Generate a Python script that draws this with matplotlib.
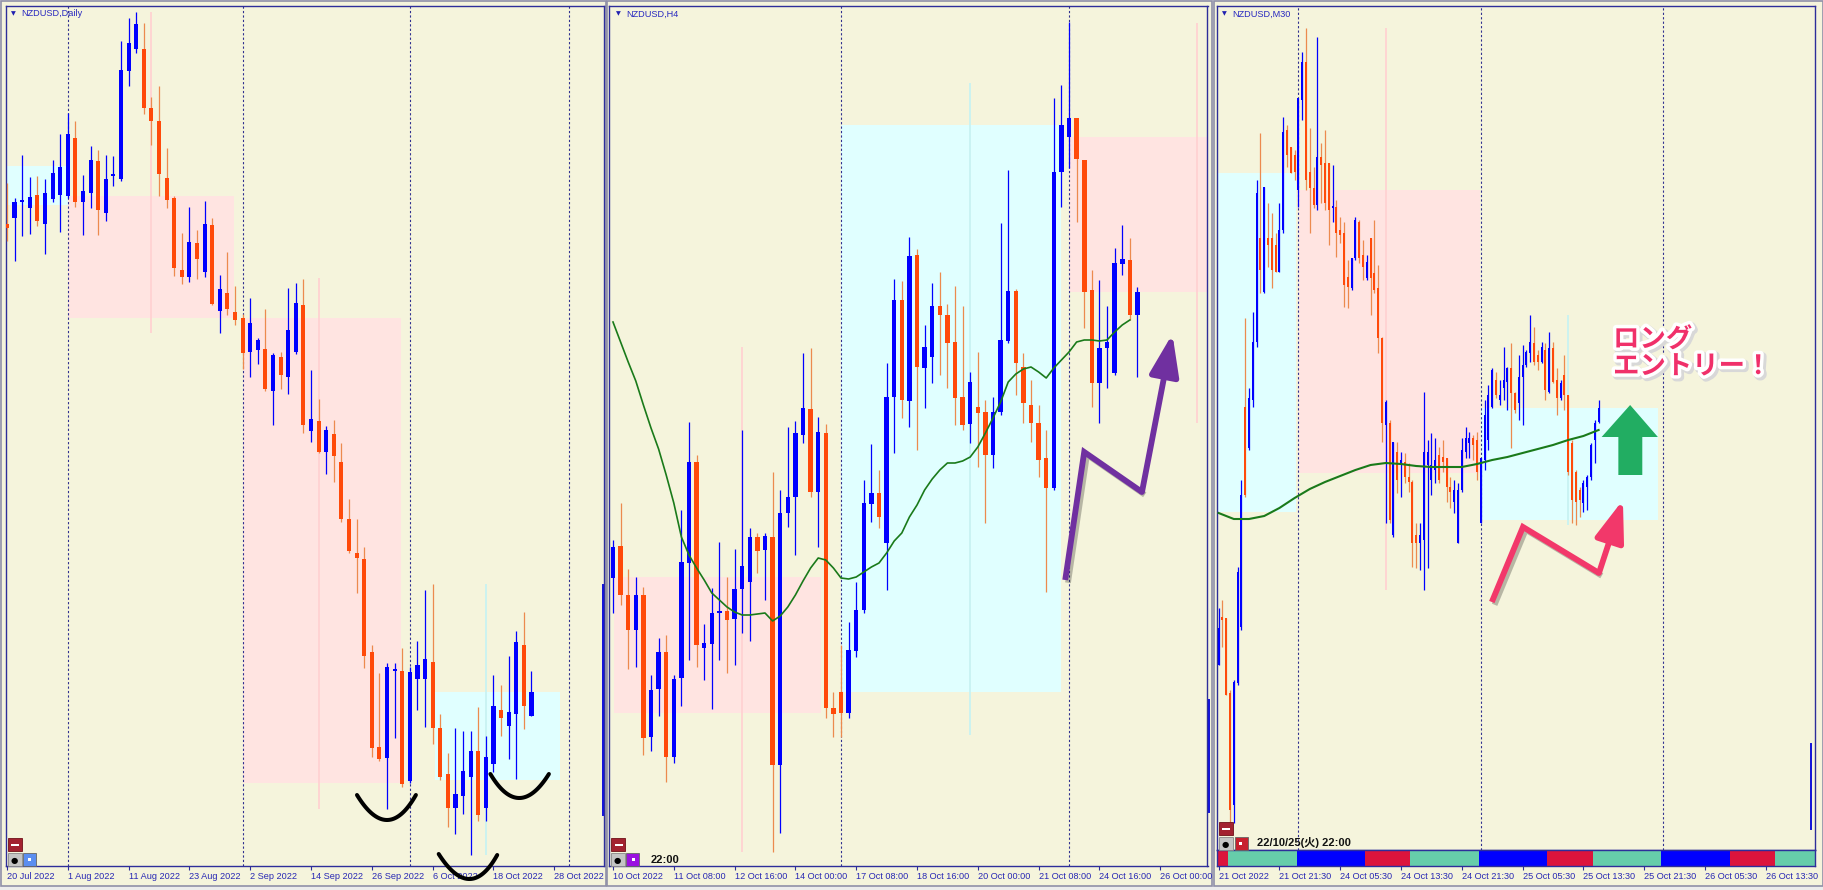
import matplotlib
matplotlib.use('Agg')
import matplotlib.pyplot as plt
import matplotlib.patheffects as pe
from matplotlib.patches import Rectangle, Polygon
from matplotlib.lines import Line2D
import numpy as np

plt.rcParams['font.family'] = ['Liberation Sans', 'DejaVu Sans', 'Noto Sans CJK JP']

W, H = 1824, 890

# ---------------- NZDUSD Daily ----------------
d1_open = [.6276, .6282, .6298, .6292, .6305, .6276, .6301, .6305, .6304, .6362,
           .6298, .6307, .6339, .6287, .6324, .6321, .6429, .6451, .6451, .6392,
           .6379, .6322, .6302, .6230, .6223, .6257, .6228, .6275, .6189, .6207,
           .6188, .6182, .6148, .6150, .6151, .6109, .6143, .6123, .6148, .6195,
           .6069, .6079, .6048, .6066, .6038, .5981, .5947, .5941, .5848, .5753,
           .5742, .5829, .5829, .5719, .5821, .5821, .5838, .5772, .5726, .5692,
           .5704, .5723, .5749, .5692, .5736, .5790, .5774, .5786, .5855, .5784]
d1_high = [.6317, .6302, .6345, .6323, .6324, .6321, .6340, .6366, .6387, .6379,
           .6325, .6354, .6350, .6345, .6344, .6459, .6482, .6488, .6477, .6403,
           .6414, .6352, .6304, .6267, .6293, .6270, .6299, .6282, .6225, .6248,
           .6214, .6186, .6202, .6162, .6191, .6147, .6148, .6212, .6217, .6221,
           .6130, .6101, .6074, .6080, .6057, .6001, .5981, .5953, .5855, .5827,
           .5837, .5837, .5852, .5833, .5859, .5910, .5916, .5786, .5747, .5772,
           .5769, .5769, .5793, .5764, .5825, .5815, .5844, .5869, .5888, .5829]
d1_low = [.6259, .6239, .6264, .6266, .6274, .6246, .6298, .6268, .6302, .6293,
          .6265, .6292, .6265, .6279, .6314, .6319, .6414, .6447, .6386, .6355,
          .6304, .6292, .6224, .6216, .6218, .6221, .6223, .6195, .6167, .6185,
          .6175, .6131, .6123, .6136, .6109, .6075, .6111, .6106, .6146, .6067,
          .6058, .6047, .6026, .6018, .5978, .5947, .5907, .5832, .5743, .5739,
          .5691, .5762, .5713, .5717, .5790, .5773, .5756, .5720, .5673, .5666,
          .5686, .5645, .5679, .5679, .5728, .5764, .5741, .5721, .5771, .5784]
d1_close = [.6272, .6298, .6300, .6303, .6279, .6307, .6327, .6333, .6366, .6298,
            .6309, .6340, .6290, .6321, .6325, .6430, .6457, .6476, .6392, .6379,
            .6326, .6300, .6232, .6223, .6258, .6241, .6276, .6196, .6211, .6191,
            .6180, .6147, .6177, .6160, .6111, .6145, .6125, .6170, .6197, .6075,
            .6081, .6048, .6070, .6044, .5981, .5949, .5942, .5844, .5752, .5741,
            .5833, .5831, .5716, .5828, .5835, .5841, .5772, .5723, .5692, .5706,
            .5729, .5749, .5685, .5743, .5794, .5782, .5788, .5858, .5794, .5808]
# monthly candles drawn as boxes (Jul, Aug, Sep, Oct)
mn_start = [-2, 8, 31, 56.3]
mn_end = [8, 29.9, 51.8, 72.8]
mn_mid = [-5, 18.9, 41, 63]
mn_open = [.6295, .6304, .6182, .5720]
mn_close = [.6334, .6182, .5717, .5808]
mn_high = [.6334, .6488, .6222, .5916]
mn_low = [.6295, .6167, .5691, .5645]
d1_ticks = ['20 Jul 2022', '1 Aug 2022', '11 Aug 2022', '23 Aug 2022', '2 Sep 2022',
            '14 Sep 2022', '26 Sep 2022', '6 Oct 2022', '18 Oct 2022', '28 Oct 2022']
d1_grid = [8, 31, 53, 74]

# ---------------- NZDUSD H4 ----------------
h4_open = [.5422, .5454, .5405, .5370, .5405, .5263, .5311, .5348, .5243, .5322,
           .5437, .5538, .5352, .5356, .5387, .5389, .5381, .5411, .5418, .5463,
           .5450, .5463, .5235, .5487, .5503, .5565, .5591, .5508, .5567, .5292,
           .5308, .5287, .5349, .5390, .5496, .5507, .5457, .5603, .5700, .5599,
           .5745, .5632, .5643, .5694, .5685, .5658, .5603, .5576, .5593, .5588,
           .5545, .5588, .5659, .5709, .5633, .5595, .5577, .5542, .5512, .5828,
           .5863, .5882, .5840, .5710, .5617, .5652, .5627, .5736, .5740, .5685]
h4_high = [.5460, .5497, .5431, .5423, .5413, .5325, .5362, .5365, .5325, .5490,
           .5578, .5545, .5376, .5412, .5458, .5423, .5451, .5570, .5472, .5467,
           .5467, .5528, .5510, .5573, .5579, .5647, .5652, .5583, .5576, .5308,
           .5355, .5378, .5418, .5520, .5556, .5530, .5637, .5721, .5719, .5763,
           .5751, .5675, .5717, .5728, .5696, .5714, .5694, .5628, .5648, .5600,
           .5603, .5777, .5830, .5711, .5647, .5620, .5595, .5570, .5902, .5915,
           .5978, .5882, .5840, .5730, .5720, .5694, .5752, .5775, .5762, .5713]
h4_low = [.5387, .5395, .5331, .5333, .5245, .5249, .5284, .5218, .5237, .5294,
          .5340, .5333, .5320, .5291, .5340, .5327, .5335, .5367, .5359, .5427,
          .5400, .5148, .5167, .5473, .5445, .5557, .5503, .5453, .5282, .5263,
          .5263, .5282, .5343, .5387, .5478, .5472, .5410, .5547, .5582, .5573,
          .5550, .5592, .5617, .5625, .5612, .5575, .5570, .5557, .5533, .5477,
          .5532, .5585, .5657, .5605, .5577, .5558, .5523, .5408, .5510, .5793,
          .5832, .5778, .5672, .5593, .5577, .5612, .5625, .5725, .5680, .5623]
h4_close = [.5453, .5405, .5370, .5405, .5262, .5310, .5348, .5243, .5321, .5438,
            .5538, .5355, .5357, .5387, .5389, .5380, .5411, .5434, .5463, .5449,
            .5464, .5235, .5487, .5503, .5567, .5592, .5508, .5568, .5292, .5286,
            .5287, .5350, .5390, .5497, .5507, .5483, .5603, .5700, .5600, .5744,
            .5633, .5653, .5694, .5685, .5657, .5602, .5575, .5618, .5587, .5545,
            .5588, .5660, .5709, .5637, .5597, .5577, .5540, .5512, .5828, .5875,
            .5882, .5841, .5708, .5617, .5652, .5658, .5737, .5741, .5685, .5708]
h4_ma = [.5678, .5658, .5638, .5619, .5595, .5572, .5551, .5525, .5497, .5463,
         .5445, .5432, .5420, .5407, .5400, .5393, .5388, .5385, .5385, .5386,
         .5387, .5379, .5384, .5393, .5405, .5419, .5432, .5442, .5440, .5432,
         .5422, .5421, .5423, .5428, .5433, .5437, .5447, .5459, .5467, .5483,
         .5495, .5510, .5521, .5530, .5537, .5537, .5539, .5543, .5553, .5567,
         .5582, .5598, .5618, .5626, .5631, .5633, .5628, .5622, .5632, .5640,
         .5648, .5658, .5660, .5660, .5659, .5660, .5668, .5675, .5680]
# weekly candles drawn as boxes
wk_start = [0.1, 30, 60]
wk_end = [27.4, 58.9, 90]
wk_mid = [17, 47, 76.9]
wk_open = [.5423, .5308, .5863]
wk_close = [.5287, .5875, .5708]
wk_high = [.5653, .5917, .5977]
wk_low = [.5148, .5265, .5577]
h4_ticks = ['10 Oct 2022', '11 Oct 08:00', '12 Oct 16:00', '14 Oct 00:00', '17 Oct 08:00',
            '18 Oct 16:00', '20 Oct 00:00', '21 Oct 08:00', '24 Oct 16:00', '26 Oct 00:00']
h4_grid = [30, 60]

# ---------------- NZDUSD M30 ----------------
m30_open = [.5335, .5383, .5382, .5307, .5195, .5317, .5373, .5593, .5552, .5600,
            .5658, .5762, .5708, .5762, .5762, .5755, .5728, .5770, .5870, .5853,
            .5845, .5810, .5900, .5938, .5828, .5812, .5795, .5843, .5837, .5837,
            .5792, .5793, .5770, .5767, .5723, .5712, .5742, .5778, .5745, .5722,
            .5762, .5727, .5712, .5662, .5575, .5577, .5465, .5548, .5535, .5538,
            .5523, .5518, .5465, .5457, .5460, .5535, .5520, .5530, .5545, .5543,
            .5542, .5513, .5498, .5457, .5510, .5548, .5557, .5562, .5560, .5477,
            .5540, .5560, .5593, .5620, .5600, .5612, .5618, .5632, .5607, .5597,
            .5623, .5635, .5647, .5657, .5645, .5638, .5650, .5608, .5652, .5620,
            .5602, .5625, .5605, .5557, .5528, .5510, .5497, .5513, .5523, .5560,
            .5578]
m30_high = [.5392, .5400, .5382, .5310, .5320, .5433, .5520, .5682, .5612, .5688,
            .5820, .5867, .5813, .5797, .5787, .5767, .5797, .5883, .5875, .5853,
            .5850, .5902, .5948, .5972, .5872, .5833, .5963, .5857, .5870, .5837,
            .5835, .5800, .5783, .5778, .5740, .5742, .5783, .5780, .5760, .5745,
            .5762, .5780, .5735, .5663, .5600, .5580, .5558, .5558, .5548, .5547,
            .5537, .5520, .5477, .5477, .5608, .5560, .5567, .5562, .5553, .5560,
            .5542, .5523, .5520, .5517, .5562, .5573, .5568, .5565, .5568, .5542,
            .5600, .5615, .5632, .5628, .5620, .5653, .5633, .5657, .5608, .5645,
            .5655, .5650, .5685, .5673, .5650, .5658, .5657, .5668, .5658, .5632,
            .5620, .5645, .5605, .5560, .5530, .5513, .5520, .5525, .5557, .5580,
            .5600]
m30_low = [.5335, .5353, .5305, .5175, .5177, .5315, .5370, .5503, .5550, .5593,
           .5653, .5707, .5707, .5733, .5712, .5728, .5728, .5767, .5833, .5827,
           .5820, .5793, .5880, .5810, .5767, .5792, .5790, .5797, .5790, .5755,
           .5778, .5743, .5757, .5693, .5692, .5710, .5740, .5737, .5720, .5720,
           .5685, .5707, .5647, .5558, .5477, .5477, .5463, .5507, .5503, .5517,
           .5508, .5433, .5432, .5430, .5410, .5432, .5505, .5517, .5517, .5528,
           .5498, .5492, .5487, .5457, .5508, .5542, .5542, .5540, .5520, .5477,
           .5530, .5550, .5592, .5602, .5595, .5600, .5590, .5552, .5587, .5580,
           .5575, .5633, .5638, .5635, .5630, .5637, .5600, .5607, .5617, .5585,
           .5600, .5590, .5525, .5477, .5475, .5483, .5488, .5490, .5520, .5537,
           .5577]
m30_close = [.5372, .5380, .5305, .5190, .5318, .5428, .5505, .5505, .5602, .5658,
             .5807, .5730, .5813, .5755, .5730, .5728, .5770, .5868, .5845, .5827,
             .5828, .5902, .5938, .5820, .5812, .5795, .5843, .5835, .5797, .5790,
             .5793, .5767, .5765, .5715, .5713, .5742, .5780, .5742, .5733, .5738,
             .5722, .5710, .5662, .5577, .5598, .5480, .5558, .5520, .5540, .5523,
             .5518, .5457, .5457, .5465, .5548, .5548, .5535, .5540, .5520, .5538,
             .5513, .5508, .5510, .5510, .5550, .5562, .5562, .5555, .5528, .5542,
             .5585, .5605, .5630, .5605, .5605, .5620, .5632, .5607, .5590, .5623,
             .5635, .5648, .5658, .5638, .5638, .5653, .5610, .5652, .5618, .5602,
             .5617, .5605, .5528, .5500, .5498, .5500, .5517, .5523, .5555, .5577,
             .5592]
m30_ma_bar = [0, 4, 8, 12, 16, 20, 24, 28, 32, 36, 40, 44, 48, 52, 56, 60, 64,
              68, 72, 76, 80, 84, 88, 92, 96, 100]
m30_ma = [.5487, .5481, .5481, .5484, .5492, .5502, .5511, .5518, .5524, .5530,
          .5535, .5537, .5536, .5534, .5533, .5533, .5533, .5536, .5540, .5543,
          .5547, .5551, .5555, .5560, .5564, .5570]
# daily candles drawn as boxes
dy_start = [-3, 21.2, 69]
dy_end = [20.4, 68.8, 115.6]
dy_mid = [-10, 44, 92]
dy_open = [.5488, .5810, .5480]
dy_close = [.5827, .5527, .5592]
dy_high = [.5827, .5972, .5685]
dy_low = [.5488, .5410, .5475]
m30_ticks = ['21 Oct 2022', '21 Oct 21:30', '24 Oct 05:30', '24 Oct 13:30', '24 Oct 21:30',
             '25 Oct 05:30', '25 Oct 13:30', '25 Oct 21:30', '26 Oct 05:30', '26 Oct 13:30']
m30_grid = [21, 69, 117]
session_edges = [-0.5, 2.5, 20.5, 38.5, 50.5, 68.5, 86.5, 98.5, 116.5, 134.5, 146.5, 157]
session_names = ['London', 'NewYork', 'Tokyo', 'London', 'NewYork', 'Tokyo',
                 'London', 'NewYork', 'Tokyo', 'London', 'NewYork']

# hand drawn marks
smiles = [[(46.05, .5705), (50.0, .5680), (53.8, .5705)],
          [(56.8, .5646), (60.8, .5621), (64.5, .5645)],
          [(63.6, .5726), (67.4, .5702), (71.3, .5726)]]
zz2_x = [59.5, 62.0, 69.6, 73.6]
zz2_y = [.5420, .5548, .5508, .5666]
zz3_x = [71.9, 80.1, 100.1, 106.4]
zz3_y = [.5398, .5473, .5427, .5500]
up_x = [100.8, 108.3, 115.6, 111.5, 111.5, 105.2, 105.2]
up_y = [.5563, .5595, .5563, .5563, .5525, .5525, .5563]

BG = '#F5F4DC'
BULL = '#0000FF'
BEAR = '#FF4A0A'
BEAR_WICK = '#EC8A4E'
PINK = '#FFE4E1'
CYAN = '#E0FFFF'
FRAME = '#2E2E9A'
LABEL = '#2828B4'
SESSION_COL = {'Tokyo': '#0000FF', 'London': '#DC143C', 'NewYork': '#66CDAA'}

fig = plt.figure(figsize=(W / 100, H / 100), dpi=100)
fig.patch.set_facecolor('#ECECEC')


def fig_box(x0, y0, x1, y1, **kw):
    r = Rectangle((x0 / W, 1 - y1 / H), (x1 - x0) / W, (y1 - y0) / H,
                  transform=fig.transFigure, **kw)
    fig.add_artist(r)
    return r


def fig_vline(x, y0, y1, **kw):
    fig.add_artist(Line2D([x / W, x / W], [1 - y0 / H, 1 - y1 / H],
                          transform=fig.transFigure, **kw))


def make_axes(x0, x1, y0, y1):
    ax = fig.add_axes([x0 / W, 1 - y1 / H, (x1 - x0) / W, (y1 - y0) / H])
    ax.set_facecolor(BG)
    for s in ax.spines.values():
        s.set_color(FRAME)
        s.set_linewidth(1.0)
    ax.set_yticks([])
    return ax


def set_xaxis(ax, step, labels):
    ax.set_xticks(np.arange(len(labels)) * step, labels)
    ax.tick_params(axis='x', direction='out', length=3, width=0.8, color=FRAME,
                   labelcolor=LABEL, labelsize=6.6, pad=1.5)
    for t in ax.get_xticklabels():
        t.set_ha('left')


def draw_candles(ax, o, h, l, c, width, min_body):
    o, h, l, c = map(np.asarray, (o, h, l, c))
    x = np.arange(len(o))
    up = c >= o
    ax.vlines(x[up], l[up], h[up], color=BULL, lw=0.9, zorder=3)
    ax.vlines(x[~up], l[~up], h[~up], color=BEAR_WICK, lw=0.9, zorder=3)
    ax.bar(x, np.maximum(np.abs(c - o), min_body), width, bottom=np.minimum(o, c),
           color=np.where(up, BULL, BEAR), lw=0, zorder=4)


def draw_htf(ax, start, end, mid, o, h, l, c):
    for s, e, m, op, hi, lo, cl in zip(start, end, mid, o, h, l, c):
        col = CYAN if cl >= op else PINK
        wick = '#C8F2F2' if cl >= op else '#FFD2D2'
        ax.bar(s, abs(cl - op), e - s, bottom=min(op, cl), align='edge',
               color=col, lw=0, zorder=0.5)
        ax.vlines(m, lo, hi, color=wick, lw=1.3, zorder=0.6)


def draw_grid(ax, xs):
    for x in xs:
        ax.axvline(x, color='#303090', lw=0.8, ls=(0, (2, 2)), zorder=1)


def smile(ax, pts):
    p0, pb, p2 = (np.array(p) for p in pts)
    ctrl = 2 * pb - 0.5 * (p0 + p2)
    t = np.linspace(0, 1, 40)[:, None]
    b = (1 - t) ** 2 * p0 + 2 * (1 - t) * t * ctrl + t ** 2 * p2
    ax.plot(b[:, 0], b[:, 1], color='black', lw=2.9, solid_capstyle='round',
            clip_on=False, zorder=8)


def zigzag(ax, xs, ys, color):
    shadow = [pe.SimpleLineShadow(offset=(2, -2), alpha=0.25), pe.Normal()]
    ax.plot(xs[:-1], ys[:-1], color=color, lw=4.2, solid_joinstyle='miter',
            solid_capstyle='butt', zorder=8, path_effects=shadow)
    ax.annotate('', xy=(xs[-1], ys[-1]), xytext=(xs[-2], ys[-2]), zorder=8,
                arrowprops=dict(arrowstyle='-|>,head_length=0.9,head_width=0.32',
                                mutation_scale=28, color=color, lw=4.2,
                                shrinkA=0, shrinkB=0))


# window backgrounds / frames (behind the axes)
for x0, x1 in [(1, 606), (607, 1212), (1214, 1823)]:
    fig_box(x0, 1, x1, 886, facecolor=BG, edgecolor='#9090A8', lw=1.2, zorder=-10)

# ---- panel 1: Daily ----
ax1 = make_axes(6, 604, 6, 866)
draw_htf(ax1, mn_start, mn_end, mn_mid, mn_open, mn_high, mn_low, mn_close)
draw_grid(ax1, d1_grid)
draw_candles(ax1, d1_open, d1_high, d1_low, d1_close, 0.55, 0.0002)
for s in smiles:
    smile(ax1, s)
ax1.set_xlim(-0.13, 78.55)
ax1.set_ylim(0.5634, 0.6494)
set_xaxis(ax1, 8, d1_ticks)

# ---- panel 2: H4 ----
ax2 = make_axes(609.5, 1207.5, 6, 866)
draw_htf(ax2, wk_start, wk_end, wk_mid, wk_open, wk_high, wk_low, wk_close)
draw_grid(ax2, h4_grid)
draw_candles(ax2, h4_open, h4_high, h4_low, h4_close, 0.6, 0.0002)
ax2.plot(np.arange(len(h4_ma)), h4_ma, color='#1A7A1A', lw=1.2, zorder=5)
zigzag(ax2, zz2_x, zz2_y, '#7030A0')
ax2.set_xlim(-0.46, 78.22)
ax2.set_ylim(0.5134, 0.5994)
set_xaxis(ax2, 8, h4_ticks)

# ---- panel 3: M30 ----
ax3 = make_axes(1217.5, 1815, 6, 850)
draw_htf(ax3, dy_start, dy_end, dy_mid, dy_open, dy_high, dy_low, dy_close)
draw_grid(ax3, m30_grid)
draw_candles(ax3, m30_open, m30_high, m30_low, m30_close, 0.55, 0.0002)
ax3.plot(m30_ma_bar, m30_ma, color='#1A7A1A', lw=1.5, zorder=5)
zigzag(ax3, zz3_x, zz3_y, '#F2386A')
ax3.add_patch(Polygon(list(zip(up_x, up_y)), closed=True, facecolor='#22AD62',
                      edgecolor='none', zorder=8))
ax3.text(103.8, 0.5674, 'ロング\nエントリー！', family=['Noto Sans CJK JP'],
         fontsize=19, fontweight='bold', color='#F0306A', va='top', ha='left',
         linespacing=1.0, zorder=9,
         path_effects=[pe.Stroke(linewidth=6, foreground='#D8D8D8', offset=(1.5, -1.5)),
                       pe.Stroke(linewidth=5, foreground='white'), pe.Normal()])
ax3.set_xlim(-0.29, 156.95)
ax3.set_ylim(0.5150, 0.5994)
ax3.set_xticks([])

ax3s = make_axes(1217.5, 1815, 850, 866)
for s, e, name in zip(session_edges[:-1], session_edges[1:], session_names):
    ax3s.broken_barh([(s, e - s)], (0, 1), facecolors=SESSION_COL[name], lw=0)
ax3s.set_xlim(-0.29, 156.95)
ax3s.set_ylim(0, 1)
set_xaxis(ax3s, 16, m30_ticks)

# chart titles
for tx, label in [(11, 'NZDUSD,Daily'), (616, 'NZDUSD,H4'), (1222, 'NZDUSD,M30')]:
    fig.text(tx / W, 1 - 14 / H, '▼', family='DejaVu Sans', fontsize=4.5,
             color='#2020B0', va='center')
    fig.text((tx + 10) / W, 1 - 14 / H, label, fontsize=6.6, color='#2828C0', va='center')

# small terminal buttons in the lower left corners
for left, top, sq in [(6, 838, '#5B8EF0'), (609.5, 838, '#9B10E0'), (1217.5, 822, '#C8202E')]:
    fig_box(left + 2, top, left + 16, top + 13, facecolor='#A32230', edgecolor='#701018', lw=0.6)
    fig_box(left + 5, top + 6, left + 13, top + 7.5, facecolor='white', lw=0)
    fig_box(left + 2, top + 15, left + 16, top + 28, facecolor='#C4C4C4', edgecolor='#888888', lw=0.6)
    fig.text((left + 8) / W, 1 - (top + 22) / H, '●', family='DejaVu Sans', fontsize=6,
             color='black', ha='center', va='center')
    fig_box(left + 17, top + 15, left + 30, top + 28, facecolor=sq, edgecolor='#666666', lw=0.6)
    fig_box(left + 22, top + 20, left + 25, top + 23, facecolor='white', lw=0)

fig.text(651 / W, 1 - 860 / H, '22:00', fontsize=8, fontweight='bold', color='#111111',
         va='center')
fig.text(1257 / W, 1 - 843 / H, '22/10/25(火) 22:00', fontsize=8, fontweight='bold',
         color='#111111', va='center', family=['Liberation Sans', 'Noto Sans CJK JP'])

# blue edge strokes between windows
fig_vline(603, 585, 815, color='#1010D8', lw=1.4)
fig_vline(1209, 700, 812, color='#1010D8', lw=1.4)
fig_vline(1811, 744, 829, color='#1010D8', lw=1.4)

fig.savefig('out.png', dpi=100, facecolor=fig.get_facecolor())
